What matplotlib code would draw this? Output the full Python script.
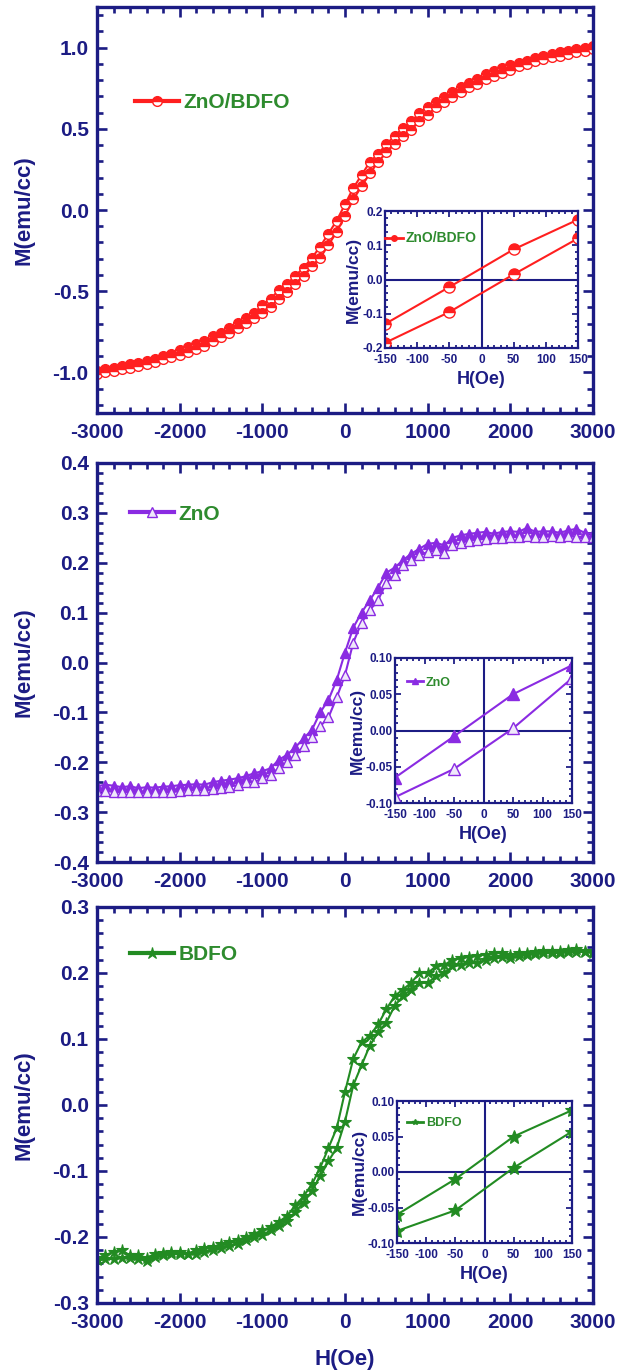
import numpy as np
import matplotlib.pyplot as plt
from matplotlib.ticker import MultipleLocator, FormatStrFormatter

plt.rcParams['font.family'] = ['Liberation Sans', 'DejaVu Sans']
plt.rcParams['font.weight'] = 'bold'
plt.rcParams['axes.unicode_minus'] = False

azul = '#1c1c84'
verde_txt = '#2e8b2e'
rojo = '#ff1f1f'
morado = '#8a2be2'
verde = '#228b22'

# campo H (Oe), paso de 100
H = [-3000, -2900, -2800, -2700, -2600, -2500, -2400, -2300, -2200, -2100,
     -2000, -1900, -1800, -1700, -1600, -1500, -1400, -1300, -1200, -1100,
     -1000, -900, -800, -700, -600, -500, -400, -300, -200, -100,
     0, 100, 200, 300, 400, 500, 600, 700, 800, 900,
     1000, 1100, 1200, 1300, 1400, 1500, 1600, 1700, 1800, 1900,
     2000, 2100, 2200, 2300, 2400, 2500, 2600, 2700, 2800, 2900,
     3000]

# ZnO/BDFO
zb_sube = [-0.990, -0.980, -0.970, -0.960, -0.950, -0.940, -0.930, -0.915, -0.900, -0.885,
           -0.865, -0.845, -0.825, -0.805, -0.775, -0.755, -0.725, -0.695, -0.665, -0.635,
           -0.585, -0.545, -0.495, -0.455, -0.405, -0.355, -0.295, -0.225, -0.145, -0.065,
           0.035, 0.135, 0.215, 0.295, 0.345, 0.405, 0.455, 0.505, 0.545, 0.595,
           0.635, 0.665, 0.695, 0.725, 0.755, 0.785, 0.805, 0.835, 0.855, 0.875,
           0.895, 0.905, 0.920, 0.935, 0.950, 0.960, 0.970, 0.980, 0.990, 1.000,
           1.010]
zb_baja = [-1.010, -1.000, -0.990, -0.980, -0.970, -0.960, -0.950, -0.935, -0.920, -0.905,
           -0.895, -0.875, -0.855, -0.835, -0.805, -0.785, -0.755, -0.725, -0.695, -0.665,
           -0.635, -0.595, -0.545, -0.505, -0.455, -0.405, -0.345, -0.295, -0.215, -0.135,
           -0.035, 0.065, 0.145, 0.225, 0.295, 0.355, 0.405, 0.455, 0.495, 0.545,
           0.585, 0.635, 0.665, 0.695, 0.725, 0.755, 0.775, 0.805, 0.825, 0.845,
           0.865, 0.885, 0.900, 0.915, 0.930, 0.940, 0.950, 0.960, 0.970, 0.980,
           0.990]

# ZnO
zn_sube = [-0.248, -0.245, -0.247, -0.250, -0.248, -0.252, -0.250, -0.251, -0.249, -0.248,
           -0.246, -0.245, -0.244, -0.245, -0.240, -0.237, -0.235, -0.232, -0.228, -0.222,
           -0.218, -0.212, -0.195, -0.185, -0.170, -0.152, -0.135, -0.100, -0.075, -0.035,
           0.020, 0.070, 0.100, 0.125, 0.150, 0.180, 0.190, 0.205, 0.218, 0.228,
           0.238, 0.240, 0.235, 0.250, 0.255, 0.258, 0.260, 0.262, 0.258, 0.262,
           0.263, 0.262, 0.270, 0.262, 0.263, 0.263, 0.260, 0.265, 0.268, 0.260,
           0.258]
zn_baja = [-0.258, -0.258, -0.259, -0.260, -0.259, -0.260, -0.260, -0.259, -0.260, -0.260,
           -0.258, -0.256, -0.255, -0.256, -0.254, -0.252, -0.249, -0.246, -0.240, -0.240,
           -0.232, -0.225, -0.212, -0.200, -0.185, -0.168, -0.150, -0.128, -0.110, -0.070,
           -0.025, 0.040, 0.080, 0.105, 0.125, 0.160, 0.175, 0.195, 0.205, 0.215,
           0.222, 0.225, 0.220, 0.235, 0.240, 0.244, 0.246, 0.248, 0.250, 0.250,
           0.252, 0.252, 0.253, 0.252, 0.252, 0.253, 0.252, 0.253, 0.252, 0.252,
           0.252]

# BDFO
bd_sube = [-0.232, -0.228, -0.222, -0.220, -0.228, -0.227, -0.232, -0.226, -0.224, -0.222,
           -0.223, -0.225, -0.220, -0.217, -0.215, -0.211, -0.208, -0.205, -0.200, -0.195,
           -0.190, -0.185, -0.177, -0.168, -0.152, -0.138, -0.120, -0.095, -0.065, -0.035,
           0.020, 0.070, 0.095, 0.105, 0.122, 0.145, 0.165, 0.175, 0.185, 0.200,
           0.200, 0.210, 0.212, 0.220, 0.222, 0.225, 0.226, 0.228, 0.230, 0.230,
           0.228, 0.230, 0.231, 0.232, 0.233, 0.234, 0.234, 0.235, 0.236, 0.233,
           0.233]
bd_baja = [-0.235, -0.234, -0.233, -0.232, -0.232, -0.233, -0.236, -0.230, -0.228, -0.226,
           -0.226, -0.226, -0.225, -0.222, -0.220, -0.216, -0.214, -0.210, -0.205, -0.200,
           -0.197, -0.190, -0.183, -0.176, -0.162, -0.148, -0.130, -0.108, -0.085, -0.065,
           -0.025, 0.030, 0.060, 0.090, 0.110, 0.125, 0.150, 0.165, 0.175, 0.185,
           0.185, 0.195, 0.200, 0.210, 0.212, 0.215, 0.215, 0.220, 0.222, 0.224,
           0.222, 0.226, 0.228, 0.229, 0.230, 0.230, 0.231, 0.232, 0.232, 0.232,
           0.231]

# insertos, zona de bajo campo
Hi = [-150, -50, 50, 150]
zb_in_sube = [-0.130, -0.022, 0.088, 0.175]
zb_in_baja = [-0.185, -0.095, 0.015, 0.120]
zn_in_sube = [-0.065, -0.008, 0.050, 0.090]
zn_in_baja = [-0.092, -0.053, 0.003, 0.072]
bd_in_sube = [-0.060, -0.010, 0.050, 0.087]
bd_in_baja = [-0.083, -0.054, 0.006, 0.057]

W, Hf = 618, 1372


def caja(l, t, r, b):
    # pixeles -> fraccion de figura
    return [l / W, 1 - b / Hf, (r - l) / W, (b - t) / Hf]


def estilo(ax, xmaj, xmin, ymaj, ymin, fs, largo, fmt_y, lw, padx, pady):
    ax.xaxis.set_major_locator(MultipleLocator(xmaj))
    ax.xaxis.set_minor_locator(MultipleLocator(xmin))
    ax.yaxis.set_major_locator(MultipleLocator(ymaj))
    ax.yaxis.set_minor_locator(MultipleLocator(ymin))
    ax.xaxis.set_major_formatter(FormatStrFormatter('%d'))
    ax.yaxis.set_major_formatter(FormatStrFormatter(fmt_y))
    ax.tick_params(which='both', direction='in', top=True, right=True,
                   colors=azul, labelsize=fs, width=lw * 0.8)
    ax.tick_params(which='major', length=largo)
    ax.tick_params(which='minor', length=largo * 0.55)
    ax.tick_params(axis='x', which='both', pad=padx)
    ax.tick_params(axis='y', which='both', pad=pady)
    for s in ax.spines.values():
        s.set_color(azul)
        s.set_linewidth(lw)


def leyenda(ax, linea, texto, x, y, fs, hl):
    ax.legend([linea], [texto], loc='center left', bbox_to_anchor=(x, y),
              frameon=False, handlelength=hl, handletextpad=0.2,
              borderaxespad=0, borderpad=0, labelcolor=verde_txt,
              prop={'size': fs, 'weight': 'bold'})


fig = plt.figure(figsize=(W / 100, Hf / 100), dpi=100)

paneles = [
    (caja(97, 7, 593, 413), zb_sube, zb_baja, (-1.25, 1.25), 0.5, 0.1, 'ZnO/BDFO', rojo, 'o',
     (0.077, 0.764), caja(385, 211, 578, 348), zb_in_sube, zb_in_baja, (-0.2, 0.2), 0.1, 0.02,
     '%.1f', (0.0, 0.80), 10),
    (caja(97, 463, 593, 862), zn_sube, zn_baja, (-0.4, 0.4), 0.1, 0.02, 'ZnO', morado, '^',
     (0.067, 0.872), caja(395, 658, 572, 803), zn_in_sube, zn_in_baja, (-0.1, 0.1), 0.05, 0.01,
     '%.2f', (0.068, 0.83), 9),
    (caja(97, 907, 593, 1303), bd_sube, bd_baja, (-0.3, 0.3), 0.1, 0.02, 'BDFO', verde, '*',
     (0.067, 0.880), caja(397, 1101, 572, 1243), bd_in_sube, bd_in_baja, (-0.1, 0.1), 0.05, 0.01,
     '%.2f', (0.057, 0.845), 9),
]

for n, p in enumerate(paneles):
    (rect, sube, baja, ylim, ymaj, ymin, nombre, c, mk,
     pos_ley, rect_in, in_sube, in_baja, ylim_in, ymaj_in, ymin_in, fmt_in, pos_in, fs_in) = p

    ax = fig.add_axes(rect)
    if mk == 'o':
        kw_a = dict(marker='o', ms=7, fillstyle='top', markerfacecoloralt='white', mec=c, mew=1)
        kw_b = kw_a
    elif mk == '^':
        kw_a = dict(marker='^', ms=7, mfc=c, mec=c, mew=1)
        kw_b = dict(marker='^', ms=7, mfc='#efe8fa', mec=c, mew=1)
    else:
        kw_a = dict(marker='*', ms=9, mfc=c, mec=c, mew=0.8)
        kw_b = kw_a
    ax.plot(H, sube, '-', color=c, lw=1.5, **kw_a)
    ax.plot(H, baja, '-', color=c, lw=1.5, **kw_b)
    ax.set_xlim(-3000, 3000)
    ax.set_ylim(*ylim)
    estilo(ax, 1000, 200, ymaj, ymin, 15, 7.5, '%.1f', 2.4, 7.5, 6)
    ax.set_ylabel('M(emu/cc)', color=azul, fontsize=16, fontweight='bold')
    ax.yaxis.set_label_coords(-0.125, 0.5)
    l_ley, = ax.plot([], [], '-', color=c, lw=3, **kw_b)
    leyenda(ax, l_ley, nombre, pos_ley[0], pos_ley[1], 15, 2.1)
    if n == 2:
        ax.set_xlabel('H(Oe)', color=azul, fontsize=16, fontweight='bold')
        ax.xaxis.set_label_coords(0.5, -0.115)

    # inserto
    axi = fig.add_axes(rect_in)
    axi.axhline(0, color=azul, lw=1.5)
    axi.axvline(0, color=azul, lw=1.5)
    kwi_a = dict(kw_a)
    kwi_b = dict(kw_b)
    kwi_a['ms'] = kw_a['ms'] + 1
    kwi_b['ms'] = kw_b['ms'] + 1
    axi.plot(Hi, in_sube, '-', color=c, lw=1.5, **kwi_a)
    axi.plot(Hi, in_baja, '-', color=c, lw=1.5, **kwi_b)
    axi.set_xlim(-150, 150)
    axi.set_ylim(*ylim_in)
    estilo(axi, 50, 10, ymaj_in, ymin_in, 8.5, 4, fmt_in, 1.6, 4, 1.5)
    axi.set_xlabel('H(Oe)', color=azul, fontsize=13, fontweight='bold', labelpad=4)
    axi.set_ylabel('M(emu/cc)', color=azul, fontsize=12.5, fontweight='bold', labelpad=1)
    li, = axi.plot([], [], '-', color=c, lw=2, marker=mk, ms=4, mfc=c, mec=c)
    leyenda(axi, li, nombre, pos_in[0], pos_in[1], fs_in, 1.3)

plt.savefig('out.png', dpi=100)
